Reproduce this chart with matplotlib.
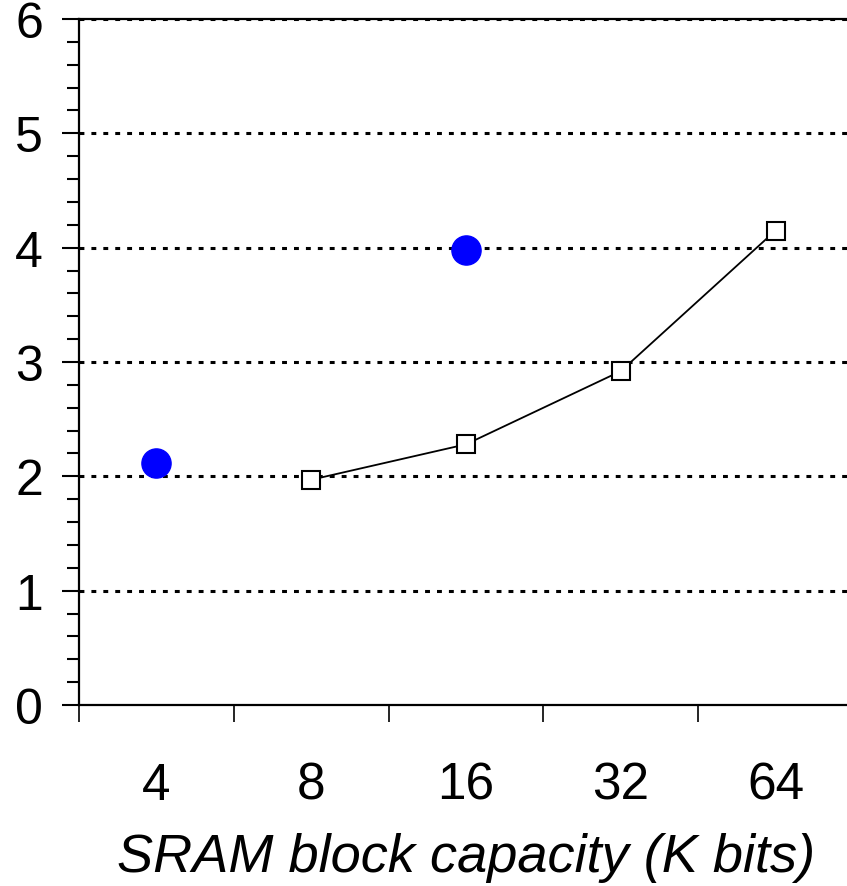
import numpy as np
import matplotlib
matplotlib.use('Agg')
import matplotlib.pyplot as plt
from matplotlib.ticker import MultipleLocator, FixedLocator

# data
categories = ['4', '8', '16', '32', '64']
circle_x = [0, 2]
circle_y = [2.12, 3.98]
square_x = [1, 2, 3, 4]
square_y = [1.97, 2.28, 2.92, 4.15]

plt.rcParams['font.family'] = ['Liberation Sans', 'DejaVu Sans']

fig = plt.figure(figsize=(8.47, 8.87), dpi=100)
ax = fig.add_axes([79/847, 181/887, 774/847, 686/887])

for yv in range(1, 7):
	ax.axhline(yv, color='black', lw=2.2, ls=(0, (1.6, 2.3)), zorder=1)

ax.plot(square_x, square_y, color='black', lw=1.3, marker='s', ms=13,
		mfc='white', mec='black', mew=1.5, zorder=3)
ax.plot(circle_x, circle_y, ls='none', marker='o', ms=21,
		mfc='#0000ff', mec='#0000ff', zorder=4)

ax.set_xlim(-0.5, 4.5)
ax.set_ylim(0, 6)

ax.xaxis.set_major_locator(FixedLocator(np.arange(-0.5, 4.6, 1)))
ax.xaxis.set_major_formatter(plt.NullFormatter())
ax.xaxis.set_minor_locator(FixedLocator(np.arange(5)))
ax.set_xticklabels(categories, minor=True)
ax.tick_params(axis='x', which='major', direction='out', length=12, width=1.2)
ax.tick_params(axis='x', which='minor', length=0, pad=40, labelsize=37)

ax.yaxis.set_major_locator(MultipleLocator(1))
ax.yaxis.set_minor_locator(MultipleLocator(0.2))
ax.tick_params(axis='y', which='major', direction='out', length=12, width=1.5,
			   pad=14, labelsize=36)
ax.tick_params(axis='y', which='minor', direction='out', length=8.6, width=1.5)

ax.spines['right'].set_visible(False)
for s in ['left', 'bottom', 'top']:
	ax.spines[s].set_linewidth(1.6)

ax.set_xlabel('SRAM block capacity (K bits)', fontsize=39, style='italic', labelpad=16)

fig.savefig('out.png', dpi=100)
